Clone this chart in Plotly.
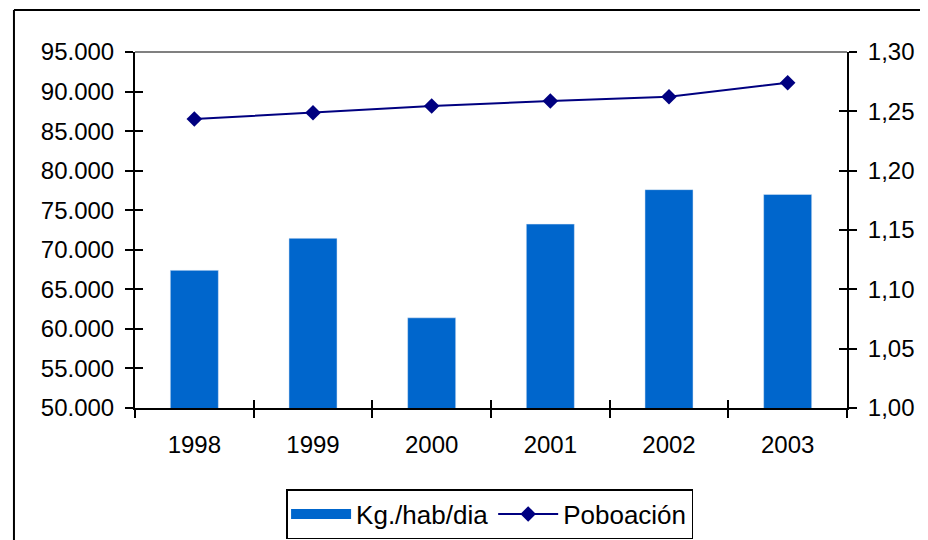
import plotly.graph_objects as go

years = ["1998", "1999", "2000", "2001", "2002", "2003"]
kg_hab_dia = [1.116, 1.143, 1.076, 1.155, 1.184, 1.180]
poboacion = [86530, 87330, 88170, 88810, 89350, 91120]

FONT = dict(family="Liberation Sans, Arial, sans-serif", size=24, color="black")
BAR_COLOR = "#0066CC"
LINE_COLOR = "#000080"

fig = go.Figure()
fig.add_trace(go.Bar(x=years, y=kg_hab_dia, name="Kg./hab/dia", marker_color=BAR_COLOR,
                     yaxis="y2", xaxis="x", legendgroup="kg", showlegend=False))
# legend swatch for the bars (wide rectangle like the original)
fig.add_trace(go.Scatter(x=years, y=[None]*len(years), name="Kg./hab/dia", mode="lines",
                         line=dict(color=BAR_COLOR, width=16), legendgroup="kg",
                         yaxis="y2", xaxis="x", hoverinfo="skip"))
fig.add_trace(go.Scatter(x=years, y=poboacion, name="Poboación", mode="lines+markers",
                         line=dict(color=LINE_COLOR, width=2),
                         marker=dict(symbol="diamond", size=12, color=LINE_COLOR),
                         yaxis="y", xaxis="x"))
# dummy traces to register overlay axes used for crossing tick marks
for xa, ya in [("x", "y3"), ("x", "y4"), ("x2", "y")]:
    fig.add_trace(go.Scatter(x=years, y=[None]*len(years), xaxis=xa, yaxis=ya,
                             showlegend=False, hoverinfo="skip", mode="markers"))

yl = [50000, 95000]
yr = [1.0, 1.3]
common_tick = dict(tickcolor="black", ticklen=8, tickwidth=2)

fig.update_layout(
    width=928, height=540,
    margin=dict(l=127, r=89, t=44, b=140, autoexpand=False),
    paper_bgcolor="white", plot_bgcolor="white",
    separators=",.",
    font=FONT,
    bargap=0.595,
    showlegend=True,
    legend=dict(orientation="h", x=0.498, y=-0.298, xanchor="center", yanchor="middle",
                bordercolor="black", borderwidth=1.5, font=dict(FONT, size=26),
                itemwidth=60, tracegroupgap=0),
    xaxis=dict(type="category", categoryarray=years, range=[-0.5, 5.5],
               showline=True, linecolor="black", linewidth=2, ticks="outside",
               tickson="boundaries", showgrid=False, ticklabelstandoff=14, **common_tick),
    xaxis2=dict(type="category", categoryarray=years, range=[-0.5, 5.5], overlaying="x",
                side="bottom", anchor="y", ticks="inside", tickson="boundaries",
                showticklabels=False, showgrid=False, showline=False, **common_tick),
    yaxis=dict(range=yl, dtick=5000, tickformat=",", showline=True, linecolor="black",
               linewidth=2, ticks="outside", showgrid=False, zeroline=False,
               ticklabelstandoff=6, **common_tick),
    yaxis2=dict(range=yr, dtick=0.05, tickformat=".2f", overlaying="y", side="right",
                anchor="x", showline=True, linecolor="black", linewidth=2, ticks="outside",
                showgrid=False, zeroline=False, ticklabelstandoff=6, **common_tick),
    yaxis3=dict(range=yl, dtick=5000, overlaying="y", side="left", anchor="x",
                ticks="inside", showticklabels=False, showgrid=False, zeroline=False,
                showline=False, **common_tick),
    yaxis4=dict(range=yr, dtick=0.05, overlaying="y", side="right", anchor="x",
                ticks="inside", showticklabels=False, showgrid=False, zeroline=False,
                showline=False, **common_tick),
    shapes=[
        dict(type="line", xref="paper", yref="paper", x0=0, x1=1, y0=1, y1=1,
             line=dict(color="#808080", width=2)),
        dict(type="line", xref="paper", yref="paper", x0=-0.170, x1=1.2, y0=1.118, y1=1.118,
             line=dict(color="black", width=2)),
        dict(type="line", xref="paper", yref="paper", x0=-0.170, x1=-0.170, y0=1.118, y1=-0.5,
             line=dict(color="black", width=2)),
    ],
)

fig.write_html("out.html")
